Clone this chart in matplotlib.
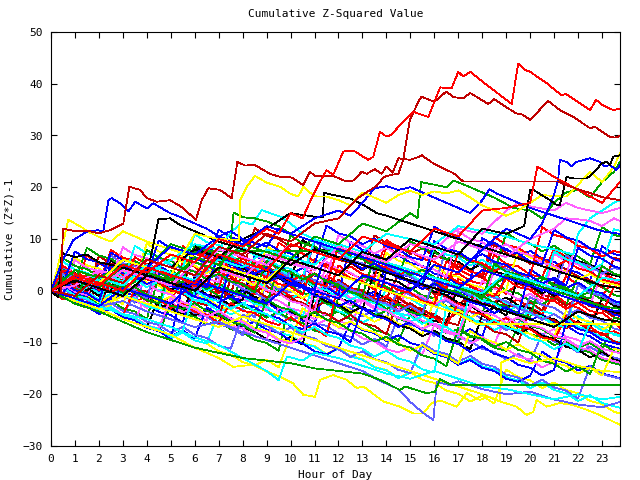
import matplotlib
matplotlib.use("Agg")
import matplotlib.pyplot as plt

# half-hour grid used by the bulk of the traces
half_hours = [0, 0.5, 1, 1.5, 2, 2.5, 3, 3.5, 4, 4.5, 5, 5.5, 6, 6.5, 7, 7.5,
              8, 8.5, 9, 9.5, 10, 10.5, 11, 11.5, 12, 12.5, 13, 13.5, 14, 14.5, 15, 15.5,
              16, 16.5, 17, 17.5, 18, 18.5, 19, 19.5, 20, 20.5, 21, 21.5, 22, 22.5, 23, 23.5,
              23.75]

red_runs = [
    [0, -1.7, -1.3, -2.5, 1.4, -0.4, -0.7, -2.2, -1.0, -2.9, -3.6,
     6.0, 4.6, 2.8, 3.0, 1.9, 0.3, -0.6, 2.1, 0.3, -1.0, -1.4, -3.1, 3.0, 1.4, 0.3, 0.1, -1.8, -2.6, -1.2, -2.9, -4.4, -5.0, -6.8,
     2.4, 1.2, -0.2, -0.7, -2.6, -1.7, -3.3, -4.5, -0.7, -2.4, -3.3, -4.8, -4.2, -6.0, -7.1],
    [0, 1.9, 0.4, -0.2, 3.6, 2.1, 1.8, 0.3, 5.2, 3.4, 2.9, 1.2, 1.9, 0.2, -0.5, 3.8,
     2.1, 1.6, -0.1, -0.7, 2.4, 0.8, 0.1, -1.6, 4.9, 3.3, 2.2, 1.9, 0.3, -1.2, 0.6, -0.9,
     -1.4, 5.7, 4.1, 3.0, 2.6, 0.8, -0.6, 1.5, 0.1, -1.5, -2.1, 2.8, 1.1, 0.4, -1.1, 2.3, 1.7],
    [0, 3.4, 2.1, 1.7, 0.2, 6.9, 5.3, 4.8, 3.1, 2.5, 1.0, 0.6, 8.4, 6.8, 6.1, 4.5,
     3.9, 2.2, 5.8, 4.1, 3.7, 2.0, 1.4, 0.9, -0.8, 0.7, -0.9, -1.3,
     8.6, 7.0, 6.2, 4.6, 4.1, 2.5, 3.4, 1.9, 1.3, 6.9, 5.2, 4.7, 3.1, 2.6, 8.1, 6.5, 5.8, 4.3, 3.8, 2.2, 1.9],
    [0, -0.6, -2.1, -2.5, -4.1, -3.2, -4.8, 0.4, -1.2, -1.6, -3.3, -2.5, -4.1, -4.6, -6.2, -2.3,
     -3.9, -4.3, -5.9, -6.6, -5.1, -6.8, -7.2, -8.8,
     1.6, 0.0, -0.6, -2.1, -1.0, -2.6, -3.1, -4.7, -5.2, -6.8, -2.4, -4.0, -4.5, -6.1, -5.3, -6.9,
     -7.4, -9.0, -9.5, -4.9, -6.4, -7.0, -8.6, -7.8, -8.4],
    [0, 1.2, 0.6, 6.8, 5.2, 4.6, 3.1, 3.8, 2.2, 1.7, 0.1, -0.4, 0.9, 4.9, 3.3, 2.8,
     1.2, 0.6, 2.9, 1.3, 0.8, -0.8, 6.1, 4.5, 3.9, 2.4, 1.8, 0.2, 1.6, 0.1, -0.4, -2.0,
     -2.5, 3.1, 1.6, 1.0, -0.5, -1.1, 2.3, 0.7, 0.2, -1.4, -1.9, -3.5, -2.3, -3.9, -4.4, 0.8, 0.4],
    [0, 4.8, 3.3, 2.7, 1.2, 7.9, 6.4, 5.8, 4.3, 3.7, 2.2, 8.6, 7.1, 6.5, 5.0, 6.1,
     4.6, 4.0, 2.5, 9.3, 7.8, 7.2, 5.7, 5.1, 3.6, 4.7, 3.2, 2.6, 9.8, 8.3, 7.7, 6.2,
     5.6, 4.1, 5.2, 3.7, 3.1, 10.4, 8.9, 8.3, 6.8, 6.2, 4.7, 5.8, 4.3, 3.7, 2.2, 1.6, 1.3],
    [0, 3.9, 3.3, 1.8, 1.2, -0.3, 0.8, 6.5, 5.0, 4.4, 2.9, 2.3, 0.8, 1.9, 0.4, 7.6,
     6.1, 5.5, 4.0, 3.4, 1.9, 3.0, 1.5, 0.9, 8.7, 7.2, 6.6, 5.1, 4.5, 3.0, 4.1, 2.6,
     2.0, 0.5, 7.4, 5.9, 5.3, 3.8, 4.9, 3.4, 2.8, 12.3, 10.8, 10.2, 8.7, 8.1, 6.6, 7.7, 7.4],
]
darkred_runs = [
    [0, 0.4, -1.1, -1.7, 4.1, 2.5, 2.0, 0.4, -0.2, 1.5, -0.1, -0.6, -2.2, -2.8, 3.6, 2.0,
     1.4, -0.2, 0.9, -0.7, -1.2, -2.8, -3.3, -1.9, 2.1, 0.5, 0.0, -1.6, -2.1, -3.7, -2.4, -4.0,
     -4.5, -6.1, -6.6, 0.9, -0.7, -1.2, -2.8, -3.3, -2.2, -3.8, 1.6, 0.0, -0.5, -2.1, -2.6, -4.2, -4.5],
    [0, 2.6, 1.0, 0.5, 2.2, 0.6, 0.1, 5.8, 4.2, 3.7, 2.1, 1.6, 0.0, 1.4, -0.2, -0.7,
     6.9, 5.3, 4.8, 3.2, 2.7, 1.1, 3.4, 1.8, 1.3, -0.3, -0.8, -2.4, -1.6, 3.1, 1.5, 1.0,
     -0.6, -1.1, -2.7, -0.9, -2.5, -3.0, 2.9, 1.3, 0.8, -0.8, -1.3, -2.9, -1.4, -3.0, -3.5, -5.1, -5.4],
    [0, -0.5, -2.1, -1.4, -3.0, 1.8, 0.2, -0.3, -1.9, -2.4, -1.1, -2.7, -3.2, -4.8, -5.3, 2.4,
     0.8, 0.3, -1.3, -0.2, -1.8, -2.3, -3.9, -4.4, -6.0, -4.7, -6.3, -6.8, -8.4, -1.4, -3.0, -3.5,
     -5.1, -5.6, -4.2, -5.8, -6.3, -7.9, -8.4, -10.0, -3.6, -5.2, -5.7, -7.3, -6.1, -7.7, -8.2, -9.8, -10.1],
    [0, 1.9, 1.3, -0.2, 6.7, 5.2, 4.6, 3.1, 4.2, 2.7, 2.1, 0.6, 7.8, 6.3, 5.7, 4.2,
     3.6, 12.1, 10.6, 10.0, 8.5, 9.6, 8.1, 7.5, 6.0, 5.4, 3.9, 10.7, 9.2, 8.6, 7.1, 8.2,
     6.7, 6.1, 4.6, 4.0, 2.5, 8.8, 7.3, 6.7, 5.2, 6.3, 4.8, 4.2, 2.7, 2.1, 0.6, 6.4, 6.1],
]
green_runs = [
    [0, -0.8, -2.3, -2.9, -4.4, -3.6, -5.1, -5.7, -7.2, -7.8, -2.9, -4.4, -5.0, -6.5, -5.9, -7.4,
     -8.0, -9.5, -10.1, -11.6,
     -1.2, -2.7, -3.3, -4.8, -4.0, -5.5, -6.1, -7.6, -8.2, -9.7, -4.6, -6.1, -6.7, -8.2, -7.4, -8.9,
     -9.5, -11.0, -11.6, -6.9, -8.4, -9.0, -10.5, -9.8, -11.3, -11.9, -13.4, -14.0, -14.3],
    [0, 2.1, 0.6, 0.0, 1.4, -0.1, 4.6, 3.1, 2.5, 1.0, 2.2, 0.7, 0.1, -1.4, -2.0, -3.5,
     3.8, 2.3, 1.7, 0.2, 1.1, -0.4, -1.0, -2.5, -3.1, -4.6, 2.9, 1.4, 0.8, -0.7, 0.6, -0.9,
     -1.5, -3.0, -3.6, -5.1, -4.3, 1.6, 0.1, -0.5, -2.0, -2.6, -1.3, -2.8, 2.8, 1.3, 0.7, -0.8, -1.1],
    [0, 0.9, -0.6, -1.2, -2.7, -1.9, -3.4, -4.0, -5.5, 2.9, 1.4, 0.8, -0.7, 0.5, -1.0, -1.6,
     -3.1, -3.7, -5.2, -4.1, -5.6, -6.2, -7.7, -8.3, -1.2, -2.7, -3.3, -4.8, -3.9, -5.4, -6.0, -7.5,
     -8.1, -9.6, -10.2, -2.6, -4.1, -4.7, -6.2, -5.3, -6.8, -7.4, -8.9, -9.5, -11.0, -10.1, -11.6, -5.2, -5.5],
    [0, 4.2, 2.7, 2.1, 0.6, 1.8, 0.3, -0.3, -1.8, -2.4, 3.9, 2.4, 1.8, 0.3, 1.5, 0.0,
     -0.6, -2.1, -2.7, 4.6, 3.1, 2.5, 1.0, 2.2, 0.7, 0.1, -1.4, -2.0, -3.5, -2.6, -4.1, -4.7,
     1.8, 0.3, -0.3, -1.8, -0.9, -2.4, -3.0, -4.5, -5.1, 2.4, 0.9, 0.3, -1.2, -0.2, -1.7, -2.3, -2.6],
    [0, -0.6, -2.1, 3.2, 1.7, 1.1, -0.4, 0.7, -0.8, -1.4, -2.9, -3.5, -2.4, -3.9, -4.5, -6.0,
     -6.6, -8.1, -1.6, -3.1, -3.7, -5.2, -4.1, -5.6, -6.2, -7.7, -8.3, -9.8, -8.9, -10.4, -11.0, -12.5,
     -13.1, -14.6, -7.2, -8.7, -9.3, -10.8, -9.9, -11.4, -12.0, -13.5, -14.1, -15.6, -14.6, -16.1, -10.2, -11.7, -12.0],
    [0, 2.4, 1.8, 8.3, 6.8, 6.2, 4.7, 5.8, 4.3, 3.7, 2.2, 1.6, 9.1, 7.6, 7.0, 5.5,
     6.6, 5.1, 4.5, 3.0, 10.7, 9.2, 8.6, 7.1, 8.2, 6.7, 6.1, 4.6, 4.0, 2.5, 9.6, 8.1,
     7.5, 6.0, 7.1, 5.6, 5.0, 3.5, 11.2, 9.7, 9.1, 7.6, 8.7, 7.2, 6.6, 5.1, 12.3, 10.8, 10.5],
    [0, 6.3, 4.8, 4.2, 2.7, 2.1, 0.6, 1.7, 7.9, 6.4, 5.8, 4.3, 3.7, 2.2, 3.3, 1.8,
     1.2, -0.3, 5.8, 4.3, 3.7, 2.2, 3.3, 1.8, 1.2, -0.3, -0.9, 6.6, 5.1, 4.5, 3.0, 4.1,
     2.6, 2.0, 0.5, -0.1, -1.6, 5.2, 3.7, 3.1, 1.6, 2.7, 1.2, 0.6, -0.9, -1.5, 4.8, 3.3, 3.0],
]
blue_runs = [
    [0, -0.7, 1.9, 0.4, -0.2, -1.7, -0.5, -2.0, -2.6, -4.1, -4.7, -6.2, 2.4, 0.9, 0.3, -1.2,
     -0.1, -1.6, -2.2, -3.7, -4.3, -5.8, -6.4, 1.8, 0.3, -0.3, -1.8, -0.7, -2.2, -2.8, -4.3, -4.9,
     -6.4, -7.0, -8.5, -7.4, -8.9, -2.1, -3.6, -4.2, -5.7, -4.6, -6.1, -6.7, -8.2, -8.8, -10.3, -10.9, -11.2],
    [0, 3.6, 2.1, 1.5, 0.0, 1.2, -0.3, -0.9, 4.8, 3.3, 2.7, 1.2, 2.3, 0.8, 0.2, -1.3,
     -1.9, 6.9, 5.4, 4.8, 3.3, 4.4, 2.9, 2.3, 0.8, 0.2, -1.3, -0.2, 4.8, 3.3, 2.7, 1.2,
     0.6, -0.9, 0.3, -1.2, -1.8, -3.3, 3.6, 2.1, 1.5, 0.0, 1.1, -0.4, -1.0, -2.5, -3.1, -4.6, -4.9],
    [0, -0.4, -1.9, -2.5, -4.0, -3.1, -4.6, -5.2, -6.7, -7.3, -8.8, -7.7, -9.2, -3.2, -4.7, -5.3,
     -6.8, -6.0, -7.5, -8.1, -9.6, -10.2, -11.7, -12.3, -11.1, -6.1, -7.6, -8.2, -9.7, -8.6, -10.1, -10.7,
     -12.2, -12.8, -14.3, -13.4, -14.9, -15.5, -17.0, -17.6, -16.4, -11.8, -13.3, -13.9, -15.4, -14.5, -16.0, -16.6, -16.9],
    [0, 1.1, -0.4, -1.0, 5.6, 4.1, 3.5, 2.0, 3.1, 1.6, 1.0, -0.5, -1.1, 7.8, 6.3, 5.7,
     4.2, 5.3, 3.8, 3.2, 1.7, 1.1, -0.4, 0.7, -0.8,
     9.4, 7.9, 7.3, 5.8, 6.9, 5.4, 4.8, 3.3, 2.7, 1.2, 2.3, 10.2, 8.7, 8.1, 6.6, 7.7, 6.2, 5.6, 4.1,
     3.5, 2.0, 8.6, 7.1, 6.8],
    [0, -0.9, -2.4, -3.0, -4.5, -3.6, -5.1, -5.7, -7.2, -7.8, -9.3,
     1.4, -0.1, -0.7, -2.2, -1.1, -2.6, -3.2, -4.7, -5.3, -6.8, -7.4, -6.3, -7.8, -8.4, -9.9, -3.4,
     -4.9, -5.5, -7.0, -6.1, -7.6, -8.2, -9.7, -10.3, -11.8, -10.7, -12.2, -12.8, -14.3, -14.9, -16.4, -15.3,
     -5.9, -7.4, -8.0, -9.5, -10.1, -10.4],
    [0, 1.6, 0.1, -0.5, -2.0, 4.9, 3.4, 2.8, 1.3, 2.4, 0.9, 0.3, -1.2, -1.8, -3.3, 5.2,
     3.7, 3.1, 1.6, 2.7, 1.2, 0.6, -0.9, -1.5, -3.0, -1.9, -3.4, -4.0, 3.9, 2.4, 1.8, 0.3,
     1.4, -0.1, -0.7, -2.2, -2.8, -4.3, -3.2, -4.7, 4.1, 2.6, 2.0, 0.5, 1.6, 0.1, -0.5, -2.0, -2.3],
    [0, 1.3, 7.6, 6.1, 5.5, 4.0, 5.1, 3.6, 3.0, 9.7, 8.2, 7.6, 6.1, 5.5, 11.8, 10.3,
     9.7, 8.2, 9.3, 7.8, 7.2, 5.7, 5.1, 12.6, 11.1, 10.5, 9.0, 10.1, 8.6, 8.0, 6.5, 5.9,
     12.4, 10.9, 10.3, 8.8, 8.2, 9.3, 7.8, 7.2, 5.7, 5.1, 11.8, 10.3, 9.7, 8.2, 7.6, 6.1, 5.8],
    [0, -0.4, 2.8, 1.3, 0.7, 7.4, 5.9, 5.3, 3.8, 4.9, 3.4, 2.8, 1.3, 0.7, 6.9, 5.4,
     4.8, 3.3, 4.4, 2.9, 2.3, 0.8, 0.2, 7.8, 6.3, 5.7, 4.2, 5.3, 3.8, 3.2, 1.7, 1.1,
     9.6, 8.1, 7.5, 6.0, 7.1, 5.6, 5.0, 3.5, 2.9, 1.4, 2.5, 1.0, 8.3, 6.8, 6.2, 4.7, 4.4],
]
midblue_runs = [
    [0, -0.6, -2.1, -1.3, -2.8, -3.4, -4.9, -0.4, -1.9, -2.5, -4.0, -2.9, -4.4, -5.0, -6.5, -7.1,
     -8.6, -2.2, -3.7, -4.3, -5.8, -4.7, -6.2, -6.8, -8.3, -8.9, -10.4, -9.3, -10.8, -5.1, -6.6, -7.2,
     -8.7, -7.6, -9.1, -9.7, -11.2, -11.8, -13.3, -12.2, -13.7, -8.3, -9.8, -10.4, -11.9, -10.8, -12.3, -12.9, -13.2],
    [0, 2.3, 0.8, 0.2, 1.3, -0.2, -0.8, -2.3, 3.1, 1.6, 1.0, -0.5, 0.6, -0.9, -1.5, -3.0,
     -3.6, -5.1, 1.8, 0.3, -0.3, 0.8, -0.7, -1.3, -2.8, -3.4, -4.9, -3.8, -5.3, 0.6, -0.9, -1.5,
     -3.0, -1.9, -3.4, -4.0, -5.5, -6.1, -7.6, -6.5, -1.2, -2.7, -3.3, -4.8, -3.7, -5.2, -5.8, -7.3, -7.6],
    [0, 0.4, -1.1, -1.7, -3.2, -2.4, -3.9, -4.5, -6.0, -6.6, -8.1, -7.0, -8.5, -9.1, -10.6, -11.2,
     -4.6, -6.1, -6.7, -8.2, -7.1, -8.6, -9.2, -10.7, -11.3, -12.8, -11.7, -13.2, -13.8, -15.3, -15.9, -10.1,
     -11.6, -12.2, -13.7, -12.6, -14.1, -14.7, -16.2, -16.8, -18.3, -17.2, -18.7, -19.3, -20.8, -14.6, -16.1, -16.7, -17.0],
    [0, 4.6, 3.1, 2.5, 1.0, 2.1, 0.6, 0.0, -1.5, 6.4, 4.9, 4.3, 2.8, 3.9, 2.4, 1.8,
     0.3, -0.3, -1.8, -0.7, 4.2, 2.7, 2.1, 0.6, 1.7, 0.2, -0.4, -1.9, -2.5, -4.0, -2.9, -4.4,
     2.6, 1.1, 0.5, -1.0, 0.1, -1.4, -2.0, -3.5, -4.1, -5.6, -4.5, -6.0, 1.1, -0.4, -1.0, -2.5, -2.8],
    [0, 3.2, 2.6, 1.1, 0.5, 6.8, 5.3, 4.7, 3.2, 4.3, 2.8, 2.2, 0.7, 8.4, 6.9, 6.3,
     4.8, 4.2, 2.7, 3.8, 2.3, 1.7, 9.5, 8.0, 7.4, 5.9, 5.3, 3.8, 4.9, 3.4, 2.8, 1.3,
     0.7, 8.2, 6.7, 6.1, 4.6, 5.7, 4.2, 3.6, 2.1, 1.5, 0.0, 6.9, 5.4, 4.8, 3.3, 4.4, 4.1],
]
pink_runs = [
    [0, -0.5, -2.0, -1.2, 2.4, 0.9, 0.3, -1.2, -0.1, -1.6, -2.2, -3.7, -4.3, -5.8, 1.2, -0.3,
     -0.9, 0.2, -1.3, -1.9, -3.4, -4.0, -5.5, -4.4, -5.9, -6.5, -1.8, -3.3, -3.9, -5.4, -4.3, -5.8,
     -6.4, -7.9, -8.5, -10.0, -8.9, -10.4, -4.9, -6.4, -7.0, -8.5, -7.4, -8.9, -9.5, -11.0, -11.6, -13.1, -13.4],
    [0, 2.8, 1.3, 0.7, -0.8, 0.3, -1.2, -1.8, -3.3, 4.4, 2.9, 2.3, 0.8, 1.9, 0.4, -0.2,
     -1.7, -2.3, -3.8, 3.2, 1.7, 1.1, 2.2, 0.7, 0.1, -1.4, -2.0, -3.5, -2.4, -3.9, 2.1, 0.6,
     0.0, -1.5, -0.4, -1.9, -2.5, 3.9, 2.4, 1.8, 0.3, 1.4, -0.1, -0.7, -2.2, -2.8, 3.4, 1.9, 1.6],
    [0, -0.8, -2.3, -1.5, -3.0, -3.6, -5.1, -5.7, -0.6, -2.1, -2.7, -4.2, -3.1, -4.6, -5.2, -6.7,
     -7.3, -8.8, -9.4, -3.1, -4.6, -5.2, -6.7, -5.6, -7.1, -7.7, -9.2, -9.8, -11.3, -11.9, -10.8, -12.3,
     -6.6, -8.1, -8.7, -10.2, -9.1, -10.6, -11.2, -12.7, -13.3, -14.8, -13.7, -9.4, -10.9, -11.5, -13.0, -13.6, -13.9],
    [0, 1.3, -0.2, -0.8, 3.9, 2.4, 1.8, 0.3, 1.4, -0.1, -0.7, -2.2, -2.8, 4.1, 2.6, 2.0,
     0.5, 1.6, 0.1, -0.5, -2.0, -2.6, -4.1, 5.6, 4.1, 3.5, 2.0, 3.1, 1.6, 1.0, -0.5, -1.1,
     -2.6, -1.5, -3.0, -3.6, 1.9, 0.4, -0.2, -1.7, -0.6, -2.1, 7.2, 5.7, 5.1, 3.6, 4.7, 3.2, 2.9],
    [0, -0.3, -1.8, -2.4, -3.9, -3.1, -4.6, -5.2, -6.7, -7.3, -1.4, -2.9, -3.5, -5.0, -3.9, -5.4,
     -6.0, -7.5, -8.1, -9.6, -10.2, -9.1,
     0.8, -0.7, -1.3, -2.8, -1.7, -3.2, -3.8, -5.3, -5.9, -7.4, -6.3, -7.8, -8.4, -2.6, -4.1, -4.7,
     -6.2, -5.1, -6.6, -7.2, -8.7, -9.3, -10.8, -9.7, -11.2, -11.8, -12.1],
    [0, 0.8, 5.9, 4.4, 3.8, 2.3, 8.4, 6.9, 6.3, 4.8, 5.9, 4.4, 3.8, 2.3, 1.7, 9.2,
     7.7, 7.1, 5.6, 6.7, 5.2, 4.6, 3.1, 2.5, 10.8, 9.3, 8.7, 7.2, 8.3, 6.8, 6.2, 4.7,
     4.1, 2.6, 11.5, 10.0, 9.4, 7.9, 9.0, 7.5, 6.9, 5.4, 4.8, 3.3, 9.6, 8.1, 7.5, 6.0, 5.7],
]
cyan_runs = [
    [0, 1.9, 0.4, -0.2, -1.7, -0.6, 3.6, 2.1, 1.5, 0.0, 1.1, -0.4, -1.0, -2.5, -3.1, -4.6,
     -3.5, 2.1, 0.6, 0.0, -1.5, -0.4, -1.9, -2.5, -4.0, -4.6, -6.1, -5.0, 0.6, -0.9, -1.5, -3.0,
     -1.9, -3.4, -4.0, -5.5, -6.1, -7.6, -6.5, -8.0, -2.4, -3.9, -4.5, -6.0, -4.9, -6.4, -7.0, -8.5, -8.8],
    [0, -0.7, -2.2, -2.8, -4.3, -3.5, -5.0, -5.6, -7.1, -7.7, -9.2, -8.1, -9.6, -10.2, -4.1, -5.6,
     -6.2, -7.7, -6.6, -8.1, -8.7, -10.2, -10.8, -12.3, -11.2, -12.7, -13.3, -14.8, -15.4, -16.9, -15.8, -10.6,
     -12.1, -12.7, -14.2, -13.1, -14.6, -15.2, -16.7, -17.3, -18.8, -17.7, -19.2, -19.8, -21.3, -20.2, -21.7, -22.3, -22.6],
    [0, 3.1, 1.6, 1.0, -0.5, 0.6, -0.9, -1.5, -3.0, -3.6, 3.6, 2.1, 1.5, 0.0, 1.1, -0.4,
     -1.0, -2.5, -3.1, -4.6, -3.5, -5.0, 1.8, 0.3, -0.3, -1.8, -0.7, -2.2, -2.8, -4.3, -4.9, -6.4,
     -5.3, 1.6, 0.1, -0.5, -2.0, -0.9, -2.4, -3.0, -4.5, -5.1, -6.6, -5.5, -7.0, -7.6, -9.1, -9.7, -10.0],
    [0, 0.6, -0.9, -1.5, -3.0, 4.3, 2.8, 2.2, 0.7, 1.8, 0.3, -0.3, -1.8, -2.4, -3.9, 6.8,
     5.3, 4.7, 3.2, 4.3, 2.8, 2.2, 0.7, 0.1, -1.4, -0.3, -1.8, -2.4, -3.9, -4.5, -6.0, -4.9,
     -6.4, -7.0, -8.5, -0.4, -1.9, -2.5, -4.0, -2.9, -4.4, -5.0, -6.5, -7.1, 1.2, -0.3, -0.9, -2.4, -2.7],
    [0, -0.4, -1.9, -2.5, -4.0, -3.2, -4.7, -5.3, -6.8, -7.4, -8.9, -7.8,
     0.1, -1.4, -2.0, -3.5, -2.4, -3.9, -4.5, -6.0, -6.6, -8.1, -7.0, -8.5, -9.1, -10.6, -11.2, -12.7,
     -11.6, -13.1, -13.7, -15.2, -15.8,
     -3.1, -4.6, -5.2, -6.7, -5.6, -7.1, -7.7, -9.2, -9.8, -11.3, -10.2, -11.7, -6.2, -7.7, -8.3, -8.6],
    [0, 5.6, 4.1, 3.5, 2.0, 3.1, 1.6, 8.7, 7.2, 6.6, 5.1, 4.5, 10.9, 9.4, 8.8, 7.3,
     8.4, 6.9, 6.3, 4.8, 4.2, 2.7, 9.9, 8.4, 7.8, 6.3, 7.4, 5.9, 5.3, 3.8, 3.2, 1.7,
     8.5, 7.0, 6.4, 4.9, 6.0, 4.5, 3.9, 2.4, 1.8, 0.3, 7.6, 6.1, 5.5, 4.0, 5.1, 11.9, 11.6],
]
yellow_runs = [
    [0, -0.7, -2.2, -2.8, -4.3, -3.5, -5.0, -5.6, -7.1, -7.7, -9.2, -8.1, -9.6, -10.2, -11.7, -12.3,
     -13.8, -14.4, -13.3, -14.8, -8.6, -10.1, -10.7, -12.2, -11.1, -12.6, -13.2, -14.7, -15.3, -16.8, -15.7, -17.2,
     -17.8, -19.3, -19.9, -21.4, -20.3, -21.8, -15.2, -16.7, -17.3, -18.8, -17.7, -19.2, -19.8, -21.3, -21.9, -23.4, -23.7],
    [0, 1.4, -0.1, -0.7, -2.2, -1.1, -2.6, 3.1, 1.6, 1.0, -0.5, 0.6, -0.9, -1.5, -3.0, -3.6,
     -5.1, -4.0, 2.2, 0.7, 0.1, -1.4, -0.3, -1.8, -2.4, -3.9, -4.5, -6.0, -4.9, -6.4, -7.0, -8.5,
     -1.6, -3.1, -3.7, -5.2, -4.1, -5.6, -6.2, -7.7, -8.3, -9.8, -8.7, -3.9, -5.4, -6.0, -7.5, -6.4, -6.7],
    [0, -0.2, -1.7, -2.3, -3.8, -2.7, 1.4, -0.1, -0.7, -2.2, -1.1, -2.6, -3.2, -4.7, -5.3, -6.8,
     -5.7, -7.2, -7.8, -9.3, -9.9, -3.4, -4.9, -5.5, -7.0, -5.9, -7.4, -8.0, -9.5, -10.1, -11.6, -10.5,
     -12.0, -12.6, -14.1, -7.8, -9.3, -9.9, -11.4, -10.3, -11.8, -12.4, -13.9, -14.5, -16.0, -14.9, -16.4, -11.2, -11.5],
    [0, 0.6, 6.4, 4.9, 4.3, 2.8, 3.9, 2.4, 9.1, 7.6, 7.0, 5.5, 4.9, 3.4, 4.5, 3.0,
     2.4, 0.9, 8.6, 7.1, 6.5, 5.0, 6.1, 4.6, 4.0, 2.5, 1.9, 0.4, 7.3, 5.8, 5.2, 3.7,
     4.8, 3.3, 2.7, 1.2, 0.6, -0.9, 0.2, 7.9, 6.4, 5.8, 4.3, 3.7, 2.2, 3.3, 1.8, 1.2, 0.9],
]
black_runs = [
    [0, -0.6, 3.4, 1.9, 1.3, -0.2, 0.9, -0.6, -1.2, -2.7, -3.3, -4.8, 2.8, 1.3, 0.7, -0.8,
     0.3, -1.2, -1.8, -3.3, -3.9, -5.4, -4.3, 2.4, 0.9, 0.3, -1.2, -0.1, -1.6, -2.2, -3.7, -4.3,
     -5.8, -6.4, 1.2, -0.3, -0.9, -2.4, -1.3, -2.8, -3.4, -4.9, -5.5, -7.0, -5.9, -7.4, -1.4, -2.9, -3.2],
    [0, -0.8, -2.3, -2.9, -4.4, -3.6, -5.1, -5.7, -7.2, -1.2, -2.7, -3.3, -4.8, -3.7, -5.2, -5.8,
     -7.3, -7.9, -9.4, -10.0, -8.9, -10.4,
     -0.6, -2.1, -2.7, -4.2, -3.1, -4.6, -5.2, -6.7, -7.3, -8.8, -7.7, -9.2, -9.8, -11.3, -4.7, -6.2,
     -6.8, -8.3, -7.2, -8.7, -9.3, -10.8, -11.4, -12.9, -11.8, -13.3, -13.6],
    [0, 2.6, 1.1, 0.5, -1.0, 0.1, 5.4, 3.9, 3.3, 1.8, 2.9, 1.4, 0.8, -0.7, -1.3, -2.8,
     -1.7, 4.6, 3.1, 2.5, 1.0, 2.1, 0.6, 0.0, -1.5, -2.1, -3.6, 3.8, 2.3, 1.7, 0.2, 1.3,
     -0.2, -0.8, -2.3, -2.9, -4.4, -3.3, -4.8, 2.6, 1.1, 0.5, -1.0, 0.1, -1.4, -2.0, -3.5, -4.1, -4.4],
    [0, 2.2, 1.6, 0.1, 1.2, 5.9, 4.4, 3.8, 2.3, 1.7, 0.2, 1.3, 8.6, 7.1, 6.5, 5.0,
     4.4, 2.9, 4.0, 2.5, 1.9, 9.8, 8.3, 7.7, 6.2, 5.6, 4.1, 5.2, 3.7, 3.1, 1.6, 1.0,
     7.7, 6.2, 5.6, 4.1, 5.2, 3.7, 3.1, 1.6, 1.0, -0.5, 0.6, 7.2, 5.7, 5.1, 3.6, 3.0, 2.7],
]

# traces that stand out, read point by point (hour, value)
top_red_h = [0, 1, 2, 3, 4, 5, 6, 7, 8, 9, 9.5, 10, 10.5, 10.88, 11.23, 11.5, 11.78, 12.2, 12.62, 13.24, 13.45, 13.73, 14.0, 14.2, 14.64, 15.12, 15.47, 15.75, 16.24, 16.72, 17.0, 17.2, 17.5, 18.18, 19.23, 19.5, 19.78, 20.0, 20.69, 21.3, 21.5, 22.5, 22.75, 23.0, 23.47, 23.75]
top_red_v = [0, 2.5, 1, 5, 3.5, 7, 5.5, 10, 8.5, 12, 11, 15, 14, 17.9, 21.1, 23.3, 22.4, 26.9, 27.1, 25.3, 25.9, 30.7, 29.8, 30.1, 32.4, 34.6, 34.0, 33.6, 39.3, 39.1, 42.3, 41.4, 42.3, 39.8, 36.1, 43.9, 42.7, 42.3, 40.1, 37.8, 38.0, 34.9, 36.9, 35.9, 34.9, 35.2]

steep_dred_h = [0, 1, 2, 3, 4, 5, 6, 7, 8, 9, 10, 11, 12, 12.8, 13.3, 13.6, 13.9, 14.2, 14.5, 14.7, 14.98, 15.37, 15.47, 16.0, 16.5, 16.8, 17.2, 17.5, 18.25, 18.5, 19.4, 19.7, 20.0, 20.75, 21.24, 21.8, 22.5, 22.7, 23.3, 23.54, 23.75]
steep_dred_v = [0, -1, 3, 1.5, 6, 4.5, 3, 8.5, 7, 11, 9.5, 13, 14, 17.9, 19.4, 20.3, 22, 22.4, 22.6, 25.3, 33.0, 36.9, 37.5, 36.5, 38.5, 37.4, 37.2, 38.2, 36.1, 37.0, 34.3, 34.0, 33.0, 36.7, 34.9, 33.6, 31.4, 31.7, 29.8, 29.6, 29.9]

flat_dred_h = [0, 0.4, 0.5, 1, 1.5, 2, 2.46, 3.02, 3.27, 3.71, 4.0, 4.41, 4.97, 5.45, 6.05, 6.29, 6.57, 7.05, 7.54, 7.78, 8.1, 8.51, 9.14, 9.56, 10.05, 10.53, 10.8, 11.02, 11.78, 12.34, 12.62, 12.97, 13.18, 13.52, 13.8, 14.0, 14.26, 14.5, 14.98, 15.37, 15.47, 15.96, 16.8, 17.0, 17.2, 21.2, 21.5, 22, 22.5, 23, 23.75]
flat_dred_v = [0, -0.5, 12, 11.5, 11.6, 11.1, 11.7, 13, 20.1, 19.5, 17.9, 17.2, 17.5, 16.2, 13.7, 17.5, 19.8, 19.5, 17.9, 24.9, 24.2, 24.3, 22.6, 22.0, 21.9, 20.4, 23.0, 22.2, 22.2, 21.1, 21.3, 23.0, 22.6, 23.5, 22.6, 24.0, 22.8, 25.6, 25.3, 25.9, 26.2, 24.6, 22.7, 22.0, 21.1, 21.1, 20.4, 19.6, 18.9, 18.1, 17.5]

late_red_h = [0, 1, 2, 3, 4, 5, 6, 7, 8, 9, 10, 11, 12, 13, 14, 15, 16, 17, 18, 19, 20, 20.3, 21, 22, 23, 23.75]
late_red_v = [0, 3, 1.5, 0, 4.5, 3, 1.5, 7, 5.5, 4, 9, 7.5, 6, 10.5, 9, 7.5, 12, 10.5, 15.5, 16, 17, 24, 22, 19.5, 17, 21]

hi_yellow_h = [0, 1, 2, 3, 4, 5, 6, 7, 7.85, 7.89, 8.17, 8.51, 9.0, 9.56, 9.97, 10.32, 10.53, 10.8, 11.09, 11.5, 12, 12.5, 13, 13.5, 14, 14.5, 15, 15.5, 16, 16.5, 17, 17.5, 18, 18.5, 19, 19.5, 20, 20.5, 21, 21.5, 22, 22.5, 23, 23.5, 23.75]
hi_yellow_v = [0, 3, 1.5, 6, 4.5, 3, 11, 10, 9.8, 17.5, 20.1, 22.2, 20.9, 20.1, 18.8, 18.2, 20.1, 19.0, 18.2, 18.2, 17.5, 16.5, 19, 18, 17, 18.5, 19.3, 18.5, 19.2, 18.8, 19.4, 18, 16.5, 15.5, 14.5, 15.5, 17, 18.5, 18.3, 18.2, 20.5, 23, 21, 24, 26.6]

flat_yellow_h = [0, 0.25, 0.72, 1.2, 1.6, 2, 2.5, 3, 3.5, 4, 5, 6, 7, 8, 9, 10, 11, 12, 13, 14, 15, 16, 17, 17.76, 23.75]
flat_yellow_v = [0, 4, 13.7, 12.5, 11.3, 10.4, 9.5, 11.5, 10.5, 9.5, 8, 6.5, 5, 3.5, 2, 6, 4.5, 3, 1.5, 0, -1.5, -3, -4.5, -6.4, -6.4]

hi_blue_h = [0, 0.5, 0.93, 1.49, 1.97, 2.18, 2.4, 2.53, 2.88, 3.23, 3.51, 4.0, 4.27, 4.97, 5.38, 5.66, 6, 6.5, 7, 7.5, 8, 9, 9.5, 10, 11, 12, 13, 14, 15, 16, 17, 18, 19, 20, 21, 22, 23, 23.75]
hi_blue_v = [0, 6, 9.8, 11.4, 11.7, 11.4, 17.5, 17.9, 16.9, 15.3, 17.2, 15.9, 16.9, 15.0, 14.3, 13.7, 13, 12, 10.5, 11.5, 10, 8.5, 12, 11, 9.5, 8, 6.5, 5, 3.5, 2, 0.5, 4, 2.5, 1, -0.5, -2, -3.5, -4]

late_blue_h = [0, 1, 2, 3, 4, 5, 6, 7, 8, 9, 10, 11, 12, 13, 14, 15, 16, 17, 18, 19, 19.5, 20, 20.5, 20.97, 21.17, 21.24, 21.52, 21.73, 21.94, 22.5, 22.91, 23.12, 23.33, 23.6, 23.75]
late_blue_v = [0, -1.5, -3, 0.5, -1, -2.5, 2, 0.5, -1, -2.5, 1.5, 0, -1.5, 3, 1.5, 0, 5, 3.5, 8, 12, 11, 10, 13, 18.2, 21.4, 25.3, 24.9, 24.0, 24.9, 25.6, 24.9, 24.0, 24.3, 23.3, 24.3]

upper_blue_h = [0, 1, 2, 3, 4, 5, 6, 7, 8, 9, 10, 11, 12, 12.5, 13, 13.5, 14, 14.5, 15, 15.5, 16, 16.5, 17, 17.5, 18, 18.3, 18.6, 19, 19.5, 20, 21, 22, 23, 23.75]
upper_blue_v = [0, 3, 1.5, 6, 4.5, 8.5, 7, 10.5, 9, 12.5, 11, 14, 15.5, 14.5, 17, 19.8, 20.2, 19.5, 20, 19, 18, 17, 16, 15, 17.5, 19.6, 18.8, 18, 17, 16, 14.5, 13, 11.5, 11]

late_black_h = [0, 1, 2, 3, 4, 5, 6, 7, 8, 9, 10, 11, 12, 13, 14, 15, 16, 17, 18, 19, 19.75, 20.0, 20.13, 20.83, 21.1, 21.24, 21.52, 21.8, 22.36, 22.63, 22.98, 23.19, 23.33, 23.47, 23.75]
late_black_v = [0, 2, 0.5, -1, 3, 1.5, 0, 4.5, 3, 1.5, 6, 4.5, 3, 7.5, 6, 10, 8.5, 7, 12, 11, 12.5, 19.5, 19.5, 17.5, 16.6, 16.6, 22.0, 21.7, 21.7, 22.7, 24.6, 24.9, 24.3, 25.9, 26.2]

mid_black_h = [0, 1, 2, 3, 4, 5, 6, 7, 8, 9, 10, 11, 11.35, 11.4, 12, 12.5, 13, 13.6, 14, 15, 16, 17, 18, 19, 20, 21, 22, 23, 23.75]
mid_black_v = [0, -1, 3, 1.5, 6, 4.5, 8, 6.5, 10, 12, 15, 14.3, 14.3, 18.9, 18.3, 17.8, 16.7, 15, 14.5, 13, 11.5, 10, 8.5, 7, 5.5, 4, 2.5, 1, 0.5]

early_black_h = [0, 0.3, 0.45, 1, 1.5, 2, 3, 4, 4.3, 4.48, 4.97, 5.38, 6, 7, 8, 9, 10, 11, 12, 13, 14, 15, 16, 17, 18, 19, 20, 21, 22, 23, 23.75]
early_black_v = [0, -1.3, 7.3, 6.5, 7, 5.5, 4.5, 3, 9.5, 13.8, 14, 12.7, 11.5, 9.5, 8, 6.5, 5, 8, 6.5, 5, 3.5, 2, 0.5, -1, -2.5, -4, -5.5, -7, -4, -5.5, -6]

hi_green_h = [0, 1, 2, 3, 4, 5, 6, 7, 7.5, 7.62, 8, 8.5, 9, 9.5, 10, 11, 12, 13, 14, 15, 16, 17, 18, 19, 20, 21, 22, 23, 23.75]
hi_green_v = [0, 4, 2.5, 5, 3.5, 7, 5.5, 4, 9.3, 15.1, 14.2, 14, 13.4, 12.5, 11, 9.5, 8, 6.5, 5, 3.5, 2, 0.5, -1, 3, 1.5, 0, -1.5, -3, -3.5]

jump_green_h = [0, 1, 2, 3, 4, 5, 6, 7, 8, 9, 10, 11, 12, 13, 14, 15, 15.3, 15.45, 16, 16.5, 16.8, 17.5, 18.5, 19.3, 20, 20.5, 21, 21.5, 22, 22.5, 23, 23.5, 23.75]
jump_green_v = [0, 2, 0.5, 5, 3.5, 2, 6.5, 5, 9, 7.5, 6, 10.5, 9, 13, 11.5, 15, 14, 21, 20.5, 20, 21.3, 20, 18, 16, 15.5, 14, 17, 19, 19.5, 18, 21, 23, 24.9]

shelf_green_h = [0, 1, 2, 3, 4, 5, 6, 6.77, 12.5, 13, 14, 15, 16, 17, 18, 19, 20, 21, 22, 23, 23.75]
shelf_green_v = [0, 3, 1.5, 6, 4.5, 9, 7.5, 7.7, 7.7, 6.5, 5, 3.5, 2, 0.5, -1, 3, 1.5, 0, -1.5, -3, -3.5]

low_green_h = [0, 1, 2, 3, 4, 5, 6, 7, 8, 9, 10, 11, 12, 13, 13.73, 14.57, 14.78, 15.68, 16.03, 16.24, 16.72, 23.75]
low_green_v = [0, -2.5, -4, -6, -8, -9.5, -11, -12, -13, -13.5, -14, -15, -15.5, -16, -17.2, -19.2, -18.5, -19.8, -19.5, -17.1, -18.2, -18.2]

low_yellow_h = [0, 1, 2, 3, 4, 5, 6, 7, 7.6, 8.44, 9.0, 9.56, 10.1, 10.53, 11.02, 11.23, 11.78, 12.34, 12.76, 13.04, 13.87, 14.57, 15.12, 15.54, 15.89, 16.24, 16.93, 17.35, 17.9, 18.3, 18.74, 19.44, 19.85, 20.13, 20.27, 20.69, 21.24, 21.8, 22.36, 22.9, 23.47, 23.75]
low_yellow_v = [0, -2, -3.5, -5.5, -7, -8.5, -11, -13, -14.7, -14.3, -15.6, -16.6, -17.9, -20.1, -20.5, -17.2, -16.3, -17.2, -18.8, -18.5, -21.4, -22.4, -23.7, -23.7, -21.7, -21.2, -22.4, -19.8, -21.1, -20.5, -21.4, -22.4, -24.0, -23.4, -21.1, -22.4, -21.7, -22.1, -23.0, -24.0, -25.3, -25.9]

jump_yellow_h = [0, 1, 2, 3, 4, 5, 6, 7, 8, 9, 10, 11, 12, 13, 14, 15, 16, 17, 18, 18.74, 18.8, 19.3, 20, 21, 22, 23, 23.75]
jump_yellow_v = [0, -1.5, -3, -1, -2.5, -4, -5.5, -7, -5, -6.5, -8, -9.5, -11, -12.5, -14, -15.5, -17, -18.5, -20, -21.4, -13.8, -13, -14, -13, -14.5, -15.5, -15.7]

low_midblue_h = [0, 1, 2, 3, 4, 5, 6, 7, 8, 9, 10, 11, 12, 13, 13.73, 14.5, 15, 15.5, 15.96, 16.1, 16.6, 17, 18, 19, 20, 21, 22, 23, 23.75]
low_midblue_v = [0, -1.5, -3, -2, -4, -5.5, -7, -6, -8, -9.5, -11, -12.5, -14, -15.5, -17.4, -19, -21.5, -23.5, -25.0, -17.6, -18.2, -17.5, -19, -20, -19.5, -21, -22, -22.5, -21.5]

low_cyan_h = [0, 1, 2, 3, 4, 5, 6, 7, 8, 9, 9.5, 9.85, 10.5, 11, 12, 13, 14, 15, 16, 17, 18, 19, 20, 21, 22, 23, 23.75]
low_cyan_v = [0, -1.5, -3, -4.5, -5.5, -7, -9, -10.5, -13, -15.5, -17.3, -12.7, -13.5, -12, -13, -14.5, -16, -17, -15.5, -17, -18.5, -19, -20, -21, -20, -21, -20.5]

hi_cyan_h = [0, 1, 2, 3, 4, 5, 6, 7, 7.5, 8, 8.4, 8.8, 9.2, 9.6, 10, 10.5, 11, 12, 13, 14, 15, 16, 17, 18, 19, 20, 21, 22, 23, 23.75]
hi_cyan_v = [0, 2, 0.5, -1, 3, 6, 9, 8, 11.3, 13.3, 12.8, 15.6, 14.9, 14.3, 13, 11, 10, 8.5, 7, 5.5, 4, 2.5, 1, -0.5, 3.5, 2, 0.5, -1, 2.5, 2]

late_cyan_h = [0, 1, 2, 3, 4, 5, 6, 7, 8, 9, 10, 11, 12, 13, 14, 15, 16, 17, 18, 19, 20, 21, 21.8, 22, 22.5, 23, 23.5, 23.75]
late_cyan_v = [0, -1, 2.5, 1, 5, 3.5, 2, 6, 4.5, 8, 6.5, 5, 9, 7.5, 11, 10, 9, 12.5, 11.5, 10.5, 9, 8, 7, 11, 14, 15.5, 17, 17.5]

hi_pink_h = [0, 1, 2, 3, 4, 5, 6, 7, 8, 9, 10, 11, 12, 13, 14, 15, 16, 17, 18, 19, 20, 21, 21.5, 22, 22.5, 23, 23.5, 23.75]
hi_pink_v = [0, 1, 4, 2.5, 6, 4.5, 3, 8, 6.5, 5, 9, 7.5, 6, 10.5, 9, 7.5, 6, 9.5, 8, 6.5, 10, 12, 14, 13.8, 13.5, 12.5, 14, 13.5]

late_pink_h = [0, 1, 2, 3, 4, 5, 6, 7, 8, 9, 10, 11, 12, 13, 14, 15, 16, 17, 18, 19, 19.5, 20, 21, 21.5, 22, 23, 23.75]
late_pink_v = [0, 2.5, 1, 4, 2.5, 1, 5.5, 4, 2.5, 7, 5.5, 4, 8.5, 7, 5.5, 9, 8, 12, 11, 15.5, 17, 16.3, 15.5, 17, 16, 15, 16]

palette = {
    "red": "#ff0000",
    "darkred": "#c00000",
    "green": "#00a000",
    "blue": "#0000ff",
    "midblue": "#6060ff",
    "pink": "#ff60ff",
    "cyan": "#00ffff",
    "yellow": "#ffff00",
    "black": "#000000",
}

groups = [
    ("red", red_runs), ("green", green_runs), ("blue", blue_runs),
    ("pink", pink_runs), ("cyan", cyan_runs), ("darkred", darkred_runs),
    ("midblue", midblue_runs), ("yellow", yellow_runs), ("black", black_runs),
]
bad = [(name, i, len(r)) for name, runs in groups for i, r in enumerate(runs)
       if len(r) != len(half_hours)]
if bad:
    raise SystemExit(f"run length mismatch: {bad}")

plt.rcParams["font.family"] = ["DejaVu Sans Mono"]

fig = plt.figure(figsize=(6.4, 4.8), dpi=100)
ax = fig.add_axes([51 / 640, 34 / 480, 569 / 640, 414 / 480])

# interleave the colour groups the way a gnuplot run cycles them
longest = max(len(runs) for _, runs in groups)
for i in range(longest):
    for name, runs in groups:
        if i < len(runs):
            ax.plot(half_hours, runs[i], color=palette[name], lw=0.55, antialiased=False)

featured = [
    ("yellow", low_yellow_h, low_yellow_v),
    ("yellow", jump_yellow_h, jump_yellow_v),
    ("midblue", low_midblue_h, low_midblue_v),
    ("cyan", low_cyan_h, low_cyan_v),
    ("green", low_green_h, low_green_v),
    ("yellow", flat_yellow_h, flat_yellow_v),
    ("green", shelf_green_h, shelf_green_v),
    ("cyan", hi_cyan_h, hi_cyan_v),
    ("cyan", late_cyan_h, late_cyan_v),
    ("pink", hi_pink_h, hi_pink_v),
    ("pink", late_pink_h, late_pink_v),
    ("green", hi_green_h, hi_green_v),
    ("green", jump_green_h, jump_green_v),
    ("black", early_black_h, early_black_v),
    ("black", mid_black_h, mid_black_v),
    ("blue", hi_blue_h, hi_blue_v),
    ("blue", upper_blue_h, upper_blue_v),
    ("yellow", hi_yellow_h, hi_yellow_v),
    ("blue", late_blue_h, late_blue_v),
    ("black", late_black_h, late_black_v),
    ("red", late_red_h, late_red_v),
    ("darkred", flat_dred_h, flat_dred_v),
    ("darkred", steep_dred_h, steep_dred_v),
    ("red", top_red_h, top_red_v),
]
for name, xs, ys in featured:
    ax.plot(xs, ys, color=palette[name], lw=0.55, antialiased=False)

ax.set_xlim(0, 23.75)
ax.set_ylim(-30, 50)
ax.set_xticks(range(24))
ax.set_yticks(range(-30, 51, 10))
ax.tick_params(direction="in", length=4.5, width=0.8, top=True, right=True,
               labelsize=8, pad=6)
for side in ax.spines.values():
    side.set_linewidth(0.8)

ax.set_title("Cumulative Z-Squared Value", fontsize=8, pad=11)
ax.set_xlabel("Hour of Day", fontsize=8, labelpad=4)
ax.set_ylabel("Cumulative (Z*Z)-1", fontsize=8, labelpad=6)

fig.savefig("out.png", dpi=100)
